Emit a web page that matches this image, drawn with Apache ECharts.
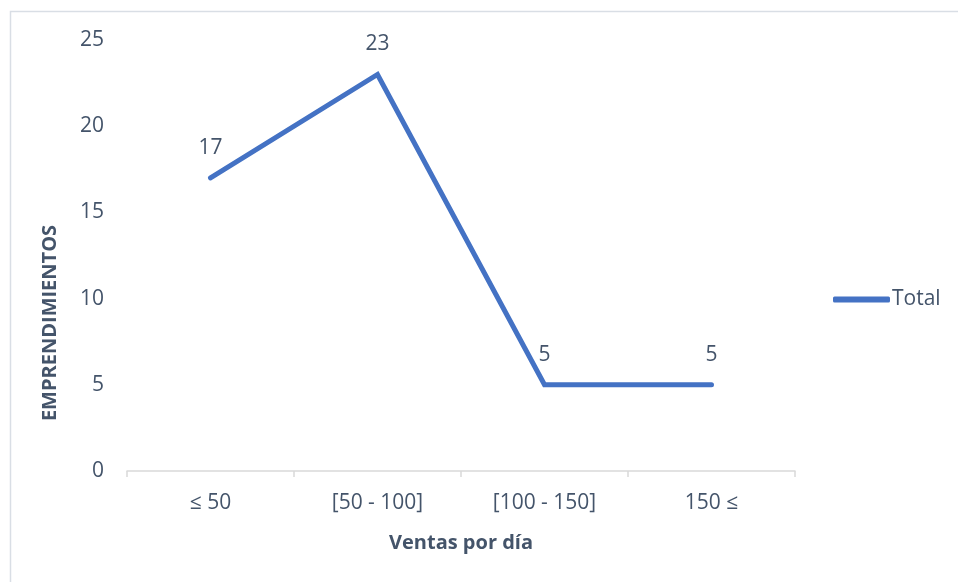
<!DOCTYPE html>
<html><head><meta charset="utf-8">
<script src="https://cdn.jsdelivr.net/npm/echarts@6/dist/echarts.min.js"></script>
<style>html,body{margin:0;padding:0;background:#fff}#c{width:958px;height:582px}</style>
</head><body><div id="c"></div>
<script>
var categories = ['≤ 50', '[50 - 100]', '[100 - 150]', '150 ≤'];
var totals = [17, 23, 5, 5];
var seriesName = 'Total';
var xTitle = 'Ventas por día';
var yTitle = 'EMPRENDIMIENTOS';

var txt = '#44546A';
var font = '"Open Sans", sans-serif';
var chart = echarts.init(document.getElementById('c'), null, {renderer: 'canvas'});
chart.setOption({
  animation: false,
  backgroundColor: '#fff',
  textStyle: {fontFamily: font},
  graphic: [
    {type: 'rect', shape: {x: 10.5, y: 11.5, width: 960, height: 600}, style: {fill: 'none', stroke: '#D9DEE5', lineWidth: 1.5}, silent: true},
    {type: 'text', x: 50, y: 323, rotation: Math.PI / 2, style: {text: yTitle, font: 'bold 20px ' + font, fill: txt, align: 'center', verticalAlign: 'middle'}}
  ],
  legend: {
    data: [{name: seriesName, icon: 'roundRect', itemStyle: {color: '#4472C4', opacity: 1}}],
    left: 833, top: 289, padding: 0, itemWidth: 57, itemHeight: 6, itemGap: 3,
    textStyle: {color: txt, fontSize: 21, fontFamily: font, padding: [0, 0, 0, -3]}
  },
  grid: {left: 127, right: 163, top: 40, bottom: 111},
  xAxis: {
    type: 'category', data: categories, boundaryGap: true,
    axisLine: {lineStyle: {color: '#D9D9D9', width: 1.5}},
    axisTick: {show: true, alignWithLabel: false, length: 6, lineStyle: {color: '#D9D9D9', width: 1.5}},
    axisLabel: {color: txt, fontSize: 21, margin: 22, fontFamily: font},
    name: xTitle, nameLocation: 'middle', nameGap: 62,
    nameTextStyle: {color: txt, fontSize: 20, fontWeight: 'bold', fontFamily: font}
  },
  yAxis: {
    type: 'value', min: 0, max: 25, interval: 5,
    axisLine: {show: false}, axisTick: {show: false}, splitLine: {show: false},
    axisLabel: {color: txt, fontSize: 21, margin: 23, fontFamily: font}
  },
  series: [{
    name: seriesName, type: 'line', data: totals, symbol: 'circle', symbolSize: 1, showSymbol: true,
    lineStyle: {color: '#4472C4', width: 5, cap: 'round', join: 'miter'},
    itemStyle: {color: '#4472C4', opacity: 0},
    label: {show: true, position: 'top', distance: 19, color: txt, fontSize: 21, fontFamily: font, opacity: 1}
  }]
});
</script></body></html>
